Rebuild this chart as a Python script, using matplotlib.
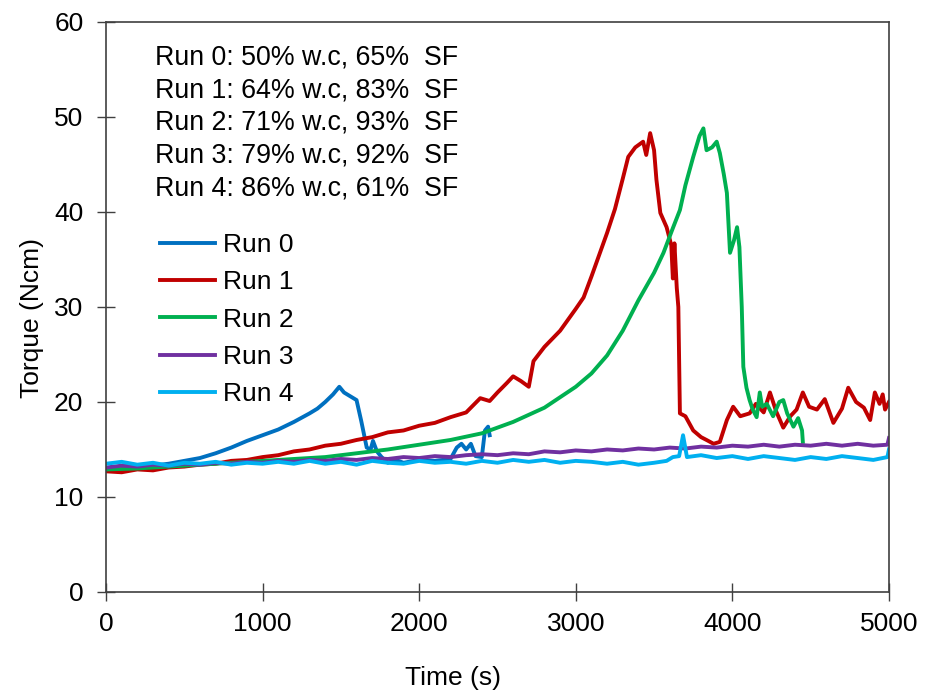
import matplotlib
matplotlib.use("Agg")
import matplotlib.pyplot as plt

plt.rcParams['font.family'] = ['Liberation Sans', 'DejaVu Sans']

# Run 0 (blue)
t0 = [0, 100, 200, 300, 400, 500, 600, 700, 800, 900, 1000, 1100, 1200, 1300, 1350,
      1400, 1450, 1490, 1520, 1560, 1600, 1630, 1665, 1690, 1705, 1730, 1760, 1800,
      1850, 1900, 2000, 2100, 2200, 2240, 2270, 2300, 2330, 2360, 2400, 2420, 2440, 2450]
y0 = [13.0, 12.8, 13.1, 13.3, 13.5, 13.8, 14.1, 14.6, 15.2, 15.9, 16.5, 17.1, 17.9, 18.8, 19.3,
      20.0, 20.8, 21.6, 21.0, 20.6, 20.2, 18.0, 15.2, 15.0, 15.9, 14.8, 14.2, 13.6,
      13.9, 13.6, 13.9, 13.8, 14.0, 15.2, 15.6, 15.0, 15.6, 14.3, 14.2, 17.0, 17.4, 16.5]

# Run 1 (red)
t1 = [0, 100, 200, 300, 400, 500, 600, 700, 800, 900, 1000, 1100, 1200, 1300, 1400,
      1500, 1600, 1700, 1800, 1900, 2000, 2100, 2200, 2300, 2390, 2450, 2500, 2560, 2600,
      2650, 2700, 2730, 2800, 2900, 3000, 3050, 3100, 3150, 3200, 3250, 3300, 3335, 3380,
      3430, 3450, 3475, 3500, 3515, 3540, 3580, 3610, 3620, 3630, 3645, 3655, 3665, 3700,
      3750, 3800, 3835, 3880, 3920, 3965, 4005, 4050, 4110, 4150, 4200, 4240, 4280, 4325,
      4370, 4410, 4450, 4490, 4540, 4590, 4645, 4700, 4740, 4790, 4840, 4880, 4910, 4940,
      4960, 4975, 5000]
y1 = [12.7, 12.6, 12.9, 12.8, 13.1, 13.2, 13.4, 13.5, 13.8, 13.9, 14.2, 14.4, 14.8, 15.0, 15.4,
      15.6, 16.0, 16.3, 16.8, 17.0, 17.5, 17.8, 18.4, 18.9, 20.4, 20.1, 21.0, 22.0, 22.7,
      22.2, 21.6, 24.3, 25.8, 27.5, 29.8, 31.0, 33.2, 35.5, 37.8, 40.3, 43.5, 45.8, 46.8,
      47.4, 46.0, 48.3, 46.5, 43.4, 39.9, 38.4, 36.5, 33.0, 36.7, 32.0, 30.0, 18.8, 18.5,
      17.0, 16.3, 16.0, 15.6, 15.8, 18.1, 19.5, 18.5, 18.8, 19.8, 18.9, 21.0, 19.0, 17.3,
      18.5, 19.2, 21.0, 19.5, 19.2, 20.3, 17.8, 19.3, 21.5, 20.0, 19.4, 18.1, 21.0, 19.8,
      20.8, 19.2, 20.0]

# Run 2 (green)
t2 = [0, 200, 400, 600, 800, 1000, 1200, 1400, 1600, 1800, 2000, 2200, 2400, 2600, 2800,
      3000, 3100, 3200, 3300, 3400, 3500, 3560, 3620, 3665, 3700, 3750, 3790, 3815, 3835,
      3870, 3900, 3920, 3945, 3965, 3985, 4010, 4030, 4045, 4060, 4070, 4090, 4110, 4130,
      4155, 4175, 4190, 4220, 4260, 4300, 4325, 4350, 4390, 4420, 4445, 4450]
y2 = [12.9, 13.0, 13.2, 13.4, 13.6, 13.8, 14.0, 14.2, 14.6, 15.0, 15.5, 16.0, 16.7, 17.9, 19.4,
      21.6, 23.0, 24.9, 27.5, 30.7, 33.6, 35.7, 38.3, 40.2, 42.8, 45.8, 48.0, 48.8, 46.5,
      46.8, 47.4, 46.2, 44.0, 42.0, 35.7, 37.0, 38.4, 36.3, 30.0, 23.7, 21.5, 20.2, 19.2,
      18.4, 21.0, 19.5, 19.8, 18.5, 20.0, 20.2, 18.8, 17.4, 18.3, 17.0, 15.8]

# Run 3 (purple)
t3 = [0, 100, 200, 300, 400, 500, 600, 700, 800, 900, 1000, 1100, 1200, 1300, 1400,
      1500, 1600, 1700, 1800, 1900, 2000, 2100, 2200, 2300, 2400, 2500, 2600, 2700, 2800,
      2900, 3000, 3100, 3200, 3300, 3400, 3500, 3600, 3700, 3800, 3900, 4000, 4100, 4200,
      4300, 4400, 4500, 4600, 4700, 4800, 4900, 4990, 5000]
y3 = [13.1, 13.3, 13.2, 13.4, 13.3, 13.5, 13.4, 13.6, 13.5, 13.7, 13.6, 13.8, 13.7, 13.9, 13.8,
      14.0, 13.9, 14.1, 14.0, 14.2, 14.1, 14.3, 14.2, 14.4, 14.5, 14.4, 14.6, 14.5, 14.8,
      14.7, 14.9, 14.8, 15.0, 14.9, 15.1, 15.0, 15.2, 15.1, 15.3, 15.2, 15.4, 15.3, 15.5,
      15.3, 15.5, 15.4, 15.6, 15.4, 15.6, 15.4, 15.5, 16.2]

# Run 4 (light blue)
t4 = [0, 100, 200, 300, 400, 500, 600, 700, 800, 900, 1000, 1100, 1200, 1300, 1400,
      1500, 1600, 1700, 1800, 1900, 2000, 2100, 2200, 2300, 2400, 2500, 2600, 2700, 2800,
      2900, 3000, 3100, 3200, 3300, 3400, 3500, 3580, 3620, 3660, 3685, 3710, 3800, 3900,
      4000, 4100, 4200, 4300, 4400, 4500, 4600, 4700, 4800, 4900, 4990, 5000]
y4 = [13.5, 13.7, 13.4, 13.6, 13.3, 13.6, 13.5, 13.7, 13.4, 13.6, 13.5, 13.7, 13.5, 13.8, 13.5,
      13.7, 13.4, 13.8, 13.6, 13.5, 13.8, 13.6, 13.7, 13.5, 13.8, 13.6, 13.9, 13.7, 13.9,
      13.6, 13.8, 13.7, 13.5, 13.7, 13.4, 13.6, 13.8, 14.2, 14.3, 16.5, 14.2, 14.4, 14.1,
      14.3, 14.0, 14.3, 14.1, 13.9, 14.2, 14.0, 14.3, 14.1, 13.9, 14.2, 15.0]

labels = ['Run 0', 'Run 1', 'Run 2', 'Run 3', 'Run 4']
colors = ['#0070C0', '#C00000', '#00B050', '#7030A0', '#00B0F0']
notes = ['Run 0: 50% w.c, 65%  SF',
         'Run 1: 64% w.c, 83%  SF',
         'Run 2: 71% w.c, 93%  SF',
         'Run 3: 79% w.c, 92%  SF',
         'Run 4: 86% w.c, 61%  SF']

fig = plt.figure(figsize=(9.33, 6.91), dpi=100)
ax = fig.add_axes([0.1136, 0.1433, 0.8392, 0.8249])

series = [(t0, y0), (t1, y1), (t2, y2), (t3, y3), (t4, y4)]
for (t, y), lab, c in zip(series, labels, colors):
    ax.plot(t, y, color=c, lw=2.8, label=lab)

ax.set_xlim(0, 5000)
ax.set_ylim(0, 60)
ax.set_xticks(range(0, 5001, 1000))
ax.set_yticks(range(0, 61, 10))
ax.tick_params(direction='inout', length=12.5, width=1, labelsize=19, color='#404040')
ax.tick_params(axis='x', pad=8)
ax.tick_params(axis='y', pad=10)
for s in ax.spines.values():
    s.set_color('#404040')
    s.set_linewidth(1.2)

ax.set_xlabel('Time (s)', fontsize=19)
ax.set_ylabel('Torque (Ncm)', fontsize=19)
ax.xaxis.set_label_coords(0.443, -0.13)
ax.yaxis.set_label_coords(-0.079, 0.48)

txt = '\n'.join(notes)
ax.text(0.062, 0.96, txt, transform=ax.transAxes, fontsize=19.3, va='top', ha='left',
        linespacing=1.33)

ax.legend(loc='upper left', bbox_to_anchor=(0.0556, 0.648), frameon=False, fontsize=19,
          handlelength=2.1, handletextpad=0.27, labelspacing=0.5, borderaxespad=0)

fig.savefig('out.png', dpi=100)
